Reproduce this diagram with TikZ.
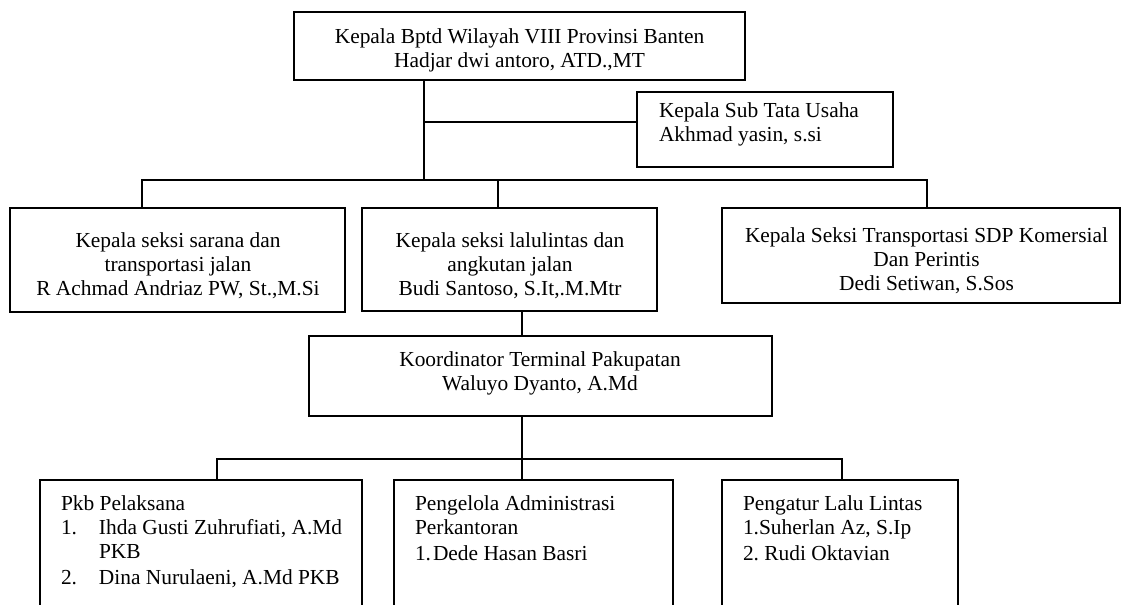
\documentclass[tikz,border=0pt]{standalone}
\usepackage{fontspec}
\setmainfont{Liberation Serif}
\begin{document}
\begin{tikzpicture}[x=1pt,y=-1pt,
  box/.style={draw, line width=1.5pt, inner sep=0pt, outer sep=0pt},
  txt/.style={inner sep=0pt, outer sep=0pt, font=\fontsize{21.4}{24}\selectfont},
  conn/.style={line width=1.5pt}]
\useasboundingbox (0,0) rectangle (1122,605);
\clip (0,0) rectangle (1122,605);
% boxes
\node[box, minimum width=451pt, minimum height=68pt] (top) at (519.5,46) {};
\node[box, minimum width=256pt, minimum height=75pt] (sub) at (765,129.5) {};
\node[box, minimum width=335pt, minimum height=104pt] (b1) at (177.5,260) {};
\node[box, minimum width=295pt, minimum height=103pt] (b2) at (509.5,259.5) {};
\node[box, minimum width=398pt, minimum height=95pt] (b3) at (921,255.5) {};
\node[box, minimum width=463pt, minimum height=80pt] (koord) at (540.5,376) {};
\node[box, minimum width=322pt, minimum height=160pt] (bA) at (201,560) {};
\node[box, minimum width=279pt, minimum height=160pt] (bB) at (533.5,560) {};
\node[box, minimum width=236pt, minimum height=160pt] (bC) at (840,560) {};
% texts
\node[txt, anchor=base] (topt) at (519.5,43) {\begin{tabular}[t]{@{}c@{}}Kepala Bptd Wilayah VIII Provinsi Banten\\Hadjar dwi antoro, ATD.,MT\end{tabular}};
\node[txt, anchor=base west] (subt) at (659,117) {\begin{tabular}[t]{@{}l@{}}Kepala Sub Tata Usaha\\Akhmad yasin, s.si\end{tabular}};
\node[txt, anchor=base] (b1t) at (178,247) {\begin{tabular}[t]{@{}c@{}}Kepala seksi sarana dan\\transportasi jalan\\R Achmad Andriaz PW, St.,M.Si\end{tabular}};
\node[txt, anchor=base] (b2t) at (510,247) {\begin{tabular}[t]{@{}c@{}}Kepala seksi lalulintas dan\\angkutan jalan\\Budi Santoso, S.It,.M.Mtr\end{tabular}};
\node[txt, anchor=base] (b3t) at (926.5,242) {\begin{tabular}[t]{@{}c@{}}Kepala Seksi Transportasi SDP Komersial\\Dan Perintis\\Dedi Setiwan, S.Sos\end{tabular}};
\node[txt, anchor=base] (koordt) at (540,366) {\begin{tabular}[t]{@{}c@{}}Koordinator Terminal Pakupatan\\Waluyo Dyanto, A.Md\end{tabular}};
\node[txt, anchor=base west] (bAt) at (61,510) {\begin{tabular}[t]{@{}l@{}l@{}}\multicolumn{2}{@{}l@{}}{Pkb Pelaksana}\\\makebox[38pt][l]{1.}&Ihda Gusti Zuhrufiati, A.Md\\&PKB\\[2.7pt]\makebox[38pt][l]{2.}&Dina Nurulaeni, A.Md PKB\end{tabular}};
\node[txt, anchor=base west] (bBt) at (415,510) {\begin{tabular}[t]{@{}l@{}}Pengelola Administrasi\\Perkantoran\\[2pt]\makebox[18pt][l]{1.}Dede Hasan Basri\end{tabular}};
\node[txt, anchor=base west] (bCt) at (743,510) {\begin{tabular}[t]{@{}l@{}}Pengatur Lalu Lintas\\1.Suherlan Az, S.Ip\\[2.5pt]2.\ Rudi Oktavian\end{tabular}};
% junction coordinates
\coordinate (j1) at (424,180);
\coordinate (js) at (424,122);
\coordinate (h1) at (142,180);
\coordinate (h2) at (498,180);
\coordinate (h3) at (927,180);
\coordinate (k0) at (522,336);
\coordinate (m1) at (217,459);
\coordinate (m2) at (522,459);
\coordinate (m3) at (842,459);
% connectors
\draw[conn] (j1 |- top.south) -- (j1);
\draw[conn] (js) -- (js -| sub.west);
\draw[conn] (h1 |- b1.north) -- (h1) -- (h3) -- (h3 |- b3.north);
\draw[conn] (h2) -- (h2 |- b2.north);
\draw[conn] (k0 |- b2.south) -- (k0 |- koord.north);
\draw[conn] (m2 |- koord.south) -- (m2) -- (m2 |- bB.north);
\draw[conn] (m1 |- bA.north) -- (m1) -- (m3) -- (m3 |- bC.north);
\end{tikzpicture}
\end{document}
